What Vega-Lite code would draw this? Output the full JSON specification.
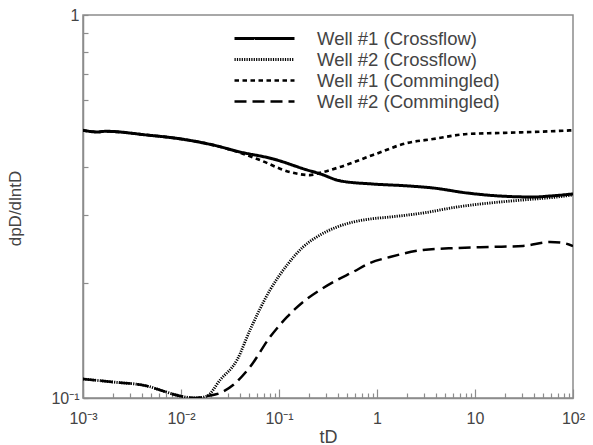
{
  "$schema": "https://vega.github.io/schema/vega-lite/v6.json",
  "width": 490,
  "height": 383,
  "autosize": {"type": "none"},
  "padding": {"left": 83, "top": 15, "right": 20, "bottom": 47},
  "background": "white",
  "config": {
    "view": {"stroke": "#8c8c8c", "strokeWidth": 1.5},
    "font": "Liberation Sans",
    "axis": {
      "grid": false,
      "domainColor": "#8c8c8c",
      "domainWidth": 1.5,
      "tickColor": "#8c8c8c",
      "labelColor": "#444444",
      "titleColor": "#444444",
      "labelFont": "Liberation Sans",
      "titleFont": "Liberation Sans",
      "titleFontWeight": "normal"
    }
  },
  "data": {
    "values": [
      {"series": "Well #1 (Crossflow)", "t": 0.001, "v": 0.500},
      {"series": "Well #1 (Crossflow)", "t": 0.0014, "v": 0.495},
      {"series": "Well #1 (Crossflow)", "t": 0.0017, "v": 0.497},
      {"series": "Well #1 (Crossflow)", "t": 0.0045, "v": 0.486},
      {"series": "Well #1 (Crossflow)", "t": 0.0098, "v": 0.475},
      {"series": "Well #1 (Crossflow)", "t": 0.021, "v": 0.458},
      {"series": "Well #1 (Crossflow)", "t": 0.040, "v": 0.439},
      {"series": "Well #1 (Crossflow)", "t": 0.087, "v": 0.421},
      {"series": "Well #1 (Crossflow)", "t": 0.193, "v": 0.394},
      {"series": "Well #1 (Crossflow)", "t": 0.262, "v": 0.385},
      {"series": "Well #1 (Crossflow)", "t": 0.419, "v": 0.369},
      {"series": "Well #1 (Crossflow)", "t": 0.91, "v": 0.362},
      {"series": "Well #1 (Crossflow)", "t": 2.02, "v": 0.358},
      {"series": "Well #1 (Crossflow)", "t": 3.73, "v": 0.3535},
      {"series": "Well #1 (Crossflow)", "t": 8.28, "v": 0.343},
      {"series": "Well #1 (Crossflow)", "t": 18.0, "v": 0.3368},
      {"series": "Well #1 (Crossflow)", "t": 39.1, "v": 0.3348},
      {"series": "Well #1 (Crossflow)", "t": 58.2, "v": 0.3368},
      {"series": "Well #1 (Crossflow)", "t": 100, "v": 0.341},

      {"series": "Well #2 (Crossflow)", "t": 0.001, "v": 0.1121},
      {"series": "Well #2 (Crossflow)", "t": 0.002, "v": 0.1101},
      {"series": "Well #2 (Crossflow)", "t": 0.0045, "v": 0.1075},
      {"series": "Well #2 (Crossflow)", "t": 0.00655, "v": 0.1043},
      {"series": "Well #2 (Crossflow)", "t": 0.0098, "v": 0.1012},
      {"series": "Well #2 (Crossflow)", "t": 0.0139, "v": 0.1},
      {"series": "Well #2 (Crossflow)", "t": 0.0184, "v": 0.1012},
      {"series": "Well #2 (Crossflow)", "t": 0.025, "v": 0.1114},
      {"series": "Well #2 (Crossflow)", "t": 0.0373, "v": 0.1257},
      {"series": "Well #2 (Crossflow)", "t": 0.0506, "v": 0.1505},
      {"series": "Well #2 (Crossflow)", "t": 0.081, "v": 0.1914},
      {"series": "Well #2 (Crossflow)", "t": 0.121, "v": 0.2225},
      {"series": "Well #2 (Crossflow)", "t": 0.176, "v": 0.2479},
      {"series": "Well #2 (Crossflow)", "t": 0.262, "v": 0.2664},
      {"series": "Well #2 (Crossflow)", "t": 0.391, "v": 0.2796},
      {"series": "Well #2 (Crossflow)", "t": 0.569, "v": 0.288},
      {"series": "Well #2 (Crossflow)", "t": 0.849, "v": 0.2933},
      {"series": "Well #2 (Crossflow)", "t": 1.358, "v": 0.2969},
      {"series": "Well #2 (Crossflow)", "t": 2.95, "v": 0.3041},
      {"series": "Well #2 (Crossflow)", "t": 6.55, "v": 0.3153},
      {"series": "Well #2 (Crossflow)", "t": 14.2, "v": 0.323},
      {"series": "Well #2 (Crossflow)", "t": 30.9, "v": 0.3289},
      {"series": "Well #2 (Crossflow)", "t": 68.7, "v": 0.3348},
      {"series": "Well #2 (Crossflow)", "t": 100, "v": 0.3388},

      {"series": "Well #1 (Commingled)", "t": 0.001, "v": 0.500},
      {"series": "Well #1 (Commingled)", "t": 0.0014, "v": 0.495},
      {"series": "Well #1 (Commingled)", "t": 0.0017, "v": 0.497},
      {"series": "Well #1 (Commingled)", "t": 0.0045, "v": 0.486},
      {"series": "Well #1 (Commingled)", "t": 0.0098, "v": 0.475},
      {"series": "Well #1 (Commingled)", "t": 0.021, "v": 0.458},
      {"series": "Well #1 (Commingled)", "t": 0.040, "v": 0.437},
      {"series": "Well #1 (Commingled)", "t": 0.064, "v": 0.418},
      {"series": "Well #1 (Commingled)", "t": 0.1295, "v": 0.389},
      {"series": "Well #1 (Commingled)", "t": 0.207, "v": 0.382},
      {"series": "Well #1 (Commingled)", "t": 0.262, "v": 0.387},
      {"series": "Well #1 (Commingled)", "t": 0.419, "v": 0.401},
      {"series": "Well #1 (Commingled)", "t": 0.91, "v": 0.431},
      {"series": "Well #1 (Commingled)", "t": 2.02, "v": 0.463},
      {"series": "Well #1 (Commingled)", "t": 3.73, "v": 0.4745},
      {"series": "Well #1 (Commingled)", "t": 8.28, "v": 0.489},
      {"series": "Well #1 (Commingled)", "t": 18.0, "v": 0.492},
      {"series": "Well #1 (Commingled)", "t": 39.1, "v": 0.495},
      {"series": "Well #1 (Commingled)", "t": 100, "v": 0.500},

      {"series": "Well #2 (Commingled)", "t": 0.001, "v": 0.1121},
      {"series": "Well #2 (Commingled)", "t": 0.002, "v": 0.1101},
      {"series": "Well #2 (Commingled)", "t": 0.0045, "v": 0.1075},
      {"series": "Well #2 (Commingled)", "t": 0.00655, "v": 0.1043},
      {"series": "Well #2 (Commingled)", "t": 0.0098, "v": 0.1012},
      {"series": "Well #2 (Commingled)", "t": 0.0139, "v": 0.1},
      {"series": "Well #2 (Commingled)", "t": 0.0184, "v": 0.1012},
      {"series": "Well #2 (Commingled)", "t": 0.025, "v": 0.103},
      {"series": "Well #2 (Commingled)", "t": 0.034, "v": 0.1081},
      {"series": "Well #2 (Commingled)", "t": 0.0506, "v": 0.1205},
      {"series": "Well #2 (Commingled)", "t": 0.081, "v": 0.1443},
      {"series": "Well #2 (Commingled)", "t": 0.121, "v": 0.1628},
      {"series": "Well #2 (Commingled)", "t": 0.176, "v": 0.1781},
      {"series": "Well #2 (Commingled)", "t": 0.262, "v": 0.1914},
      {"series": "Well #2 (Commingled)", "t": 0.391, "v": 0.2033},
      {"series": "Well #2 (Commingled)", "t": 0.569, "v": 0.2133},
      {"series": "Well #2 (Commingled)", "t": 0.849, "v": 0.2252},
      {"series": "Well #2 (Commingled)", "t": 1.358, "v": 0.2334},
      {"series": "Well #2 (Commingled)", "t": 2.95, "v": 0.2435},
      {"series": "Well #2 (Commingled)", "t": 6.55, "v": 0.2464},
      {"series": "Well #2 (Commingled)", "t": 14.2, "v": 0.2479},
      {"series": "Well #2 (Commingled)", "t": 30.9, "v": 0.2494},
      {"series": "Well #2 (Commingled)", "t": 58.2, "v": 0.2555},
      {"series": "Well #2 (Commingled)", "t": 79.1, "v": 0.254},
      {"series": "Well #2 (Commingled)", "t": 100, "v": 0.2494}
    ]
  },
  "mark": {"type": "line", "color": "black", "clip": true, "strokeCap": "butt", "interpolate": "monotone"},
  "encoding": {
    "x": {
      "field": "t",
      "type": "quantitative",
      "scale": {"type": "log", "domain": [0.001, 100], "nice": false},
      "axis": {
        "title": "tD",
        "titleFontSize": 18,
        "titleY": 44,
        "titleBaseline": "alphabetic",
        "values": [0.001, 0.002, 0.003, 0.004, 0.005, 0.006, 0.007, 0.008, 0.009,
                   0.01, 0.02, 0.03, 0.04, 0.05, 0.06, 0.07, 0.08, 0.09,
                   0.1, 0.2, 0.3, 0.4, 0.5, 0.6, 0.7, 0.8, 0.9,
                   1, 2, 3, 4, 5, 6, 7, 8, 9,
                   10, 20, 30, 40, 50, 60, 70, 80, 90, 100],
        "labelExpr": "datum.value == 0.001 ? '10⁻³' : datum.value == 0.01 ? '10⁻²' : datum.value == 0.1 ? '10⁻¹' : datum.value == 1 ? '1' : datum.value == 10 ? '10' : datum.value == 100 ? '10²' : ''",
        "labelFontSize": 16,
        "labelPadding": 21,
        "labelFlush": false,
        "labelOverlap": false,
        "tickSize": {"condition": {"test": "abs(log(datum.value)/LN10 - round(log(datum.value)/LN10)) < 0.000001", "value": -9}, "value": -5},
        "tickWidth": 1.2
      }
    },
    "y": {
      "field": "v",
      "type": "quantitative",
      "scale": {"type": "log", "domain": [0.1, 1], "nice": false},
      "axis": {
        "title": "dpD/dlntD",
        "titleFontSize": 17,
        "titleAngle": -90,
        "titleX": -68,
        "titleY": 193,
        "titleAlign": "center",
        "titleBaseline": "middle",
        "values": [0.1, 0.2, 0.3, 0.4, 0.5, 0.6, 0.7, 0.8, 0.9, 1],
        "labelExpr": "datum.value == 0.1 ? '10⁻¹' : datum.value == 1 ? '1' : ''",
        "labelFontSize": 16,
        "labelPadding": 9,
        "labelFlush": false,
        "labelOverlap": false,
        "tickSize": -5,
        "tickWidth": 1.2
      }
    },
    "strokeDash": {
      "field": "series",
      "type": "nominal",
      "scale": {
        "domain": ["Well #1 (Crossflow)", "Well #2 (Crossflow)", "Well #1 (Commingled)", "Well #2 (Commingled)"],
        "range": [[1, 0], [1.2, 1.2], [4.5, 3.5], [12, 6]]
      },
      "legend": {
        "title": null,
        "orient": "none",
        "legendX": 170,
        "legendY": 12,
        "symbolType": "M-3,0H3",
        "symbolSize": 400,
        "symbolStrokeColor": "black",
        "symbolFillColor": "transparent",
        "labelFontSize": 18.5,
        "labelLimit": 400,
        "labelColor": "#444444",
        "labelOffset": 41,
        "rowPadding": -1
      }
    },
    "strokeWidth": {
      "field": "series",
      "type": "nominal",
      "scale": {
        "domain": ["Well #1 (Crossflow)", "Well #2 (Crossflow)", "Well #1 (Commingled)", "Well #2 (Commingled)"],
        "range": [3, 2.5, 3.2, 3]
      },
      "legend": null
    }
  }
}
